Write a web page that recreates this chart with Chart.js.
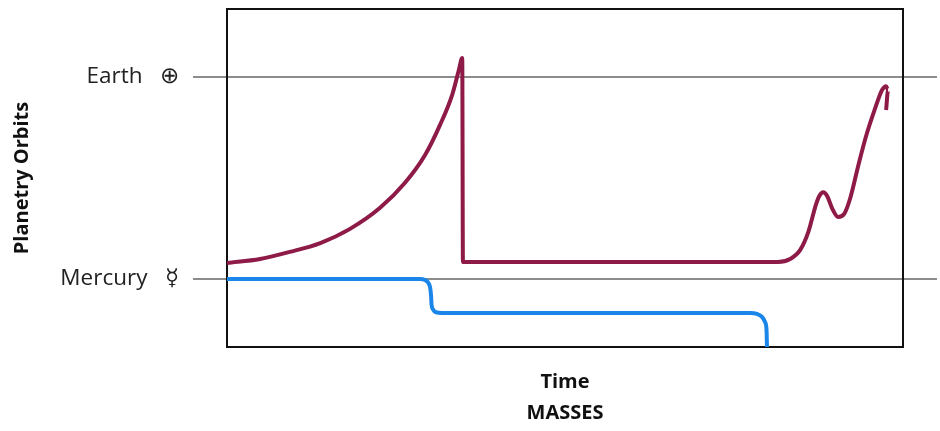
<!DOCTYPE html>
<html>
<head>
<meta charset="utf-8">
<script src="https://cdn.jsdelivr.net/npm/chart.js@4.4.1/dist/chart.umd.min.js"></script>
<style>
  html, body { margin: 0; padding: 0; background: #fff; }
  #wrap { width: 940px; height: 431px; }
</style>
</head>
<body>
<div id="wrap"><canvas id="orbitChart"></canvas></div>
<script>
// y: 0 = Mercury orbit, 1 = Earth orbit; x: time, 0..100 across the box
const yTickValues = [0, 1];
const yTickLabels = ['Mercury   \u263F', 'Earth   \u2295'];

const redX = [0, 4.9, 9.3, 13.8, 18.2, 22.6, 26.3, 29.3, 31.5, 33.3, 34.3, 34.8, 34.9,
              81.5, 83.3, 84.8, 86.0, 87.1, 87.6, 88.2, 88.8, 89.5, 90.4, 91.3, 92.2, 93.3, 94.5, 95.9, 96.9, 97.5, 97.8, 97.5];
const redY = [0.079, 0.099, 0.134, 0.178, 0.248, 0.351, 0.475, 0.614, 0.762, 0.911, 1.035, 1.094, 0.084,
              0.084, 0.099, 0.144, 0.233, 0.366, 0.41, 0.43, 0.41, 0.351, 0.307, 0.322, 0.401, 0.550, 0.703, 0.847, 0.936, 0.955, 0.936, 0.837];

const blueX = [0, 28.55, 29.29, 29.73, 30.03, 30.18, 30.25, 30.47, 30.92, 31.8,
               77.37, 78.4, 79.14, 79.59, 79.81, 79.88];
const blueY = [0, 0, -0.005, -0.017, -0.04, -0.079, -0.124, -0.151, -0.165, -0.168,
               -0.168, -0.173, -0.188, -0.213, -0.252, -0.337];

const yMin = -0.337;
const yMax = 1.337;

function toPoints(xs, ys) {
    return xs.map((x, i) => ({ x: x, y: ys[i] }));
}

function setOrbitTicks(scale) {
    scale.ticks = yTickValues.map(v => ({ value: v }));
}

const gridGray = '#8c8c8c';

new Chart(document.getElementById('orbitChart'), {
    type: 'line',
    data: {
        datasets: [
            {
                label: 'Earth mass',
                data: toPoints(redX, redY),
                borderColor: '#8e1b47',
                borderWidth: 4,
                pointRadius: 0,
                cubicInterpolationMode: 'monotone',
                fill: false
            },
            {
                label: 'Mercury mass',
                data: toPoints(blueX, blueY),
                borderColor: '#1a86ea',
                borderWidth: 4,
                pointRadius: 0,
                cubicInterpolationMode: 'monotone',
                fill: false
            }
        ]
    },
    options: {
        responsive: true,
        maintainAspectRatio: false,
        animation: false,
        layout: { padding: 0 },
        plugins: {
            legend: { display: false },
            tooltip: { enabled: false }
        },
        scales: {
            x: {
                type: 'linear',
                min: 0,
                max: 100,
                position: 'bottom',
                ticks: { display: false },
                grid: { display: false, drawTicks: false },
                border: { display: true, color: '#111', width: 2 },
                title: {
                    display: true,
                    text: ['Time', 'MASSES'],
                    font: { family: 'Open Sans', size: 20, weight: 'bold', lineHeight: 1.55 },
                    color: '#111',
                    padding: { top: 0, bottom: 2 }
                },
                afterFit: s => { s.height = 84; }
            },
            x2: {
                type: 'linear',
                min: 0,
                max: 100,
                position: 'top',
                ticks: { display: false },
                grid: { display: false, drawTicks: false },
                border: { display: true, color: '#111', width: 2 },
                afterFit: s => { s.height = 9; }
            },
            y: {
                type: 'linear',
                min: yMin,
                max: yMax,
                position: 'left',
                afterBuildTicks: setOrbitTicks,
                ticks: {
                    padding: 14,
                    color: '#222',
                    font: { family: 'Open Sans', size: 22.5 },
                    callback: v => {
                        const i = yTickValues.indexOf(v);
                        return i >= 0 ? yTickLabels[i] : '';
                    }
                },
                grid: { color: gridGray, lineWidth: 2, drawTicks: true, tickLength: 34 },
                border: { display: true, color: '#111', width: 2 },
                title: {
                    display: true,
                    text: 'Planetry Orbits',
                    font: { family: 'Open Sans', size: 20, weight: 'bold', lineHeight: 1.2 },
                    color: '#111',
                    padding: { top: 10, bottom: 0 }
                },
                afterFit: s => {
                    s.width = 227;
                    s.paddingTop = 0;
                    s.paddingBottom = 0;
                }
            },
            y2: {
                type: 'linear',
                min: yMin,
                max: yMax,
                position: 'right',
                afterBuildTicks: setOrbitTicks,
                ticks: { display: false },
                grid: { color: gridGray, lineWidth: 2, drawOnChartArea: false, drawTicks: true, tickLength: 34 },
                border: { display: true, color: '#111', width: 2 },
                afterFit: s => {
                    s.width = 37;
                    s.paddingTop = 0;
                    s.paddingBottom = 0;
                }
            }
        }
    }
});
</script>
</body>
</html>
